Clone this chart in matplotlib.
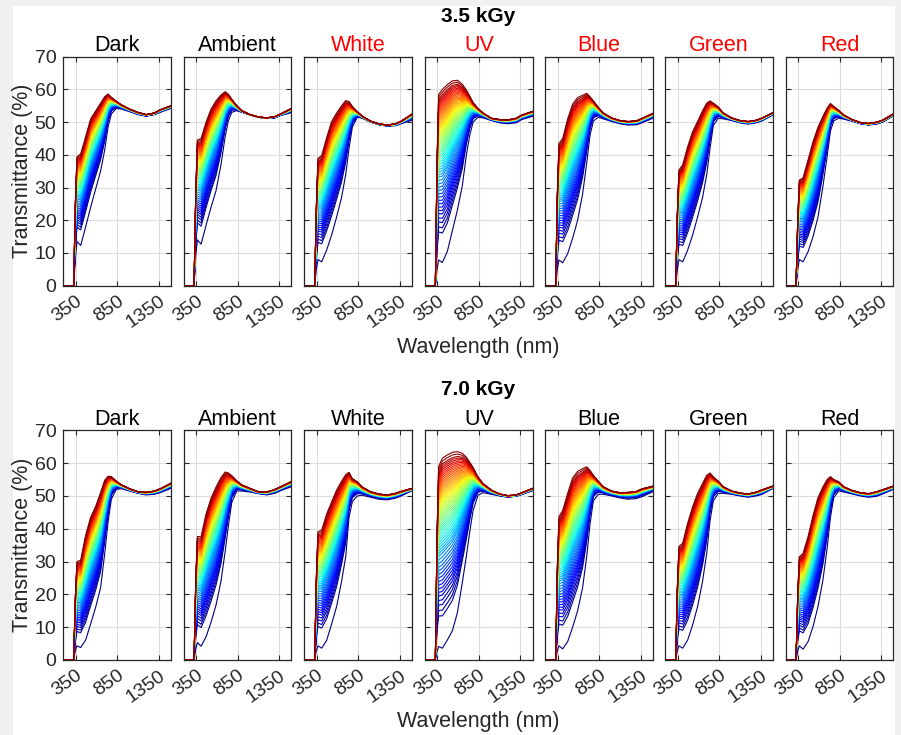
import numpy as np
import matplotlib
matplotlib.use("Agg")
import matplotlib.pyplot as plt
from matplotlib.patches import Rectangle

plt.rcParams["font.family"] = ["Liberation Sans", "DejaVu Sans"]

# Wavelength sampling points (nm) shared by every spectrum below
WAVELENGTHS = [200, 325, 345, 365, 410, 470, 530, 590, 650, 700,
               740, 780, 840, 900, 1000, 1100, 1200, 1300, 1370, 1500]

CONDITIONS = ["Dark", "Ambient", "White", "UV", "Blue", "Green", "Red"]
DOSES = ["3.5 kGy", "7.0 kGy"]
TITLE_COLORS_35 = ["black", "black", "red", "red", "red", "red", "red"]
TITLE_COLORS_70 = ["black"] * 7
XTICKS = [350, 850, 1350]
YTICKS = [0, 10, 20, 30, 40, 50, 60, 70]

# Transmittance (%) of the first (lowest, blue) and last (highest, red) spectrum per panel
# ---- 3.5 kGy
DARK_35_LOW = [0, 0, 8, 13.5, 12.3, 18, 24, 29.5, 35, 41.5, 48.5, 52.5, 54.2, 54, 53.2, 52.3, 51.8, 52.3, 53, 54.2]
DARK_35_HIGH = [0, 0, 25, 39.4, 40.3, 45.5, 51, 53.4, 55.8, 57.8, 58.6, 57.6, 56.4, 55.3, 54, 53, 52.3, 52.8, 53.8, 55]
AMBIENT_35_LOW = [0, 0, 9, 14, 12.7, 18.5, 24, 29, 37, 45.5, 50.5, 53, 53.5, 53, 52.2, 51.5, 51.1, 51.3, 52, 52.9]
AMBIENT_35_HIGH = [0, 0, 28, 44.5, 45, 50, 54, 56.5, 58.3, 59.3, 58.5, 57, 55, 53.5, 52.3, 51.6, 51.3, 51.7, 52.5, 54.2]
WHITE_35_LOW = [0, 0, 5, 8, 7.3, 10.9, 15.5, 21, 27, 34, 42, 48.5, 51.5, 51.2, 50, 49.2, 48.8, 48.9, 49.5, 50.6]
WHITE_35_HIGH = [0, 0, 24, 38.9, 39.8, 45.3, 50.2, 52.8, 55, 56.6, 56.3, 54.8, 53.2, 51.8, 50.3, 49.5, 49.1, 49.5, 50.3, 52.5]
UV_35_LOW = [0, 0, 5, 7.85, 7.1, 10.5, 16.8, 23, 30.5, 40, 46, 50, 51.5, 51.3, 50.5, 49.8, 49.5, 49.8, 50.8, 51.8]
UV_35_HIGH = [0, 0, 38, 58.5, 60, 61.5, 62.6, 62.8, 61.6, 59.8, 58, 56, 54.2, 52.8, 51.2, 50.8, 50.7, 51.2, 52.2, 53.3]
BLUE_35_LOW = [0, 0, 5, 7.85, 7, 9.8, 14.5, 20, 28, 37.5, 46, 50.3, 51.5, 51, 50.2, 49.5, 49.1, 49.2, 49.8, 51.2]
BLUE_35_HIGH = [0, 0, 28, 43.5, 45, 51, 55.5, 57.5, 58.2, 58.8, 57.8, 56.5, 54.5, 52.8, 51.3, 50.5, 50.2, 50.4, 51.2, 52.7]
GREEN_35_LOW = [0, 0, 5, 8, 7.3, 10.9, 15.5, 21, 27, 34, 42, 49, 51.2, 51, 50.5, 49.8, 49.4, 49.8, 50.4, 52.2]
GREEN_35_HIGH = [0, 0, 22, 35.4, 36.9, 42.5, 47.1, 50.2, 53.5, 55.8, 56.5, 55.8, 54.6, 52.8, 51.3, 50.5, 50.2, 50.6, 51.3, 52.9]
RED_35_LOW = [0, 0, 5, 8, 7.3, 10.4, 15, 21, 30.5, 39.5, 47.3, 50.4, 51.2, 50.9, 50.3, 49.5, 49.1, 49.4, 50, 51.9]
RED_35_HIGH = [0, 0, 20, 32.3, 33, 38.4, 44, 48.5, 51.8, 54.3, 55.7, 54.8, 53.6, 52.2, 50.8, 49.9, 49.6, 50, 50.6, 52.5]
# ---- 7.0 kGy
DARK_70_LOW = [0, 0, 2.8, 4.3, 3.8, 6.1, 11, 16, 22, 32.5, 42, 49, 52, 52.2, 51.5, 50.8, 50.3, 50.5, 51, 52.3]
DARK_70_HIGH = [0, 0, 19, 30, 30.4, 38, 43.5, 46.8, 51, 54.8, 56, 55.9, 54.5, 53.4, 52.2, 51.3, 51.1, 51.5, 52.2, 53.9]
AMBIENT_70_LOW = [0, 0, 3.3, 5.3, 4.2, 7.1, 11.5, 16.7, 24, 33, 41, 48, 51.5, 51.5, 51.2, 50.7, 50.3, 50.8, 51.6, 52.8]
AMBIENT_70_HIGH = [0, 0, 24, 37.6, 37.6, 44.5, 49.3, 52.7, 55.6, 57.3, 57, 56.2, 54.6, 53.4, 52.3, 51.3, 51.2, 52, 52.8, 54.4]
WHITE_70_LOW = [0, 0, 2.8, 4.3, 3.6, 6, 11, 16.3, 24, 31.5, 43.5, 48.3, 50, 50.2, 49.6, 49, 48.8, 49.3, 50, 51.6]
WHITE_70_HIGH = [0, 0, 25, 39.1, 39.6, 44.5, 48.2, 51.8, 54.5, 56.5, 57.2, 55.3, 54.3, 52.7, 51.3, 50.6, 50.3, 50.8, 51.4, 52.3]
UV_70_LOW = [0, 0, 2.6, 4.1, 3.6, 6.1, 8.9, 14.3, 23.5, 31.8, 39, 45.5, 50.2, 51, 50.5, 50, 49.6, 49.9, 50.4, 51.6]
UV_70_HIGH = [0, 0, 38, 59, 61.5, 62.5, 63.3, 63.5, 63, 61.8, 60.3, 58.7, 55.8, 53.8, 51.8, 50.6, 50.1, 50.3, 51, 52.3]
BLUE_70_LOW = [0, 0, 2.8, 4.3, 3.4, 5.6, 10, 15, 22, 31.5, 41.5, 48.5, 50.5, 50.5, 50, 49.4, 49, 49.2, 49.8, 51.3]
BLUE_70_HIGH = [0, 0, 28, 43.7, 45.6, 50.8, 55.5, 57.5, 58.3, 58.9, 57.8, 56.3, 54.5, 52.8, 51.5, 51, 51.1, 51.4, 52.2, 53]
GREEN_70_LOW = [0, 0, 2.8, 4.3, 3.6, 6.1, 10.7, 16.3, 24, 32.5, 42.5, 48.5, 50.8, 50.8, 50.5, 50, 49.6, 50, 50.5, 52.3]
GREEN_70_HIGH = [0, 0, 22, 34.6, 35.6, 41.7, 46.7, 50.8, 53.8, 56.3, 57, 55.8, 54.5, 52.8, 51.5, 50.9, 50.6, 51.2, 51.9, 53]
RED_70_LOW = [0, 0, 2.8, 4.3, 3.3, 5.6, 10.2, 16.3, 24.5, 34, 43.5, 49.5, 51.5, 51.2, 50.6, 50, 49.6, 49.9, 50.6, 52]
RED_70_HIGH = [0, 0, 20, 31.5, 32.5, 37.6, 44, 49.5, 52.8, 55, 55.9, 55, 54.3, 52.8, 51.7, 51, 50.7, 51.3, 51.9, 53]

# Relative position of each successive spectrum between the first and last one
PROGRESS = [0.00, 0.17, 0.20, 0.23, 0.255, 0.28, 0.30, 0.32, 0.34, 0.36,
            0.38, 0.40, 0.42, 0.44, 0.46, 0.48, 0.50, 0.515, 0.53, 0.545,
            0.56, 0.575, 0.59, 0.605, 0.62, 0.632, 0.645, 0.657, 0.67, 0.682,
            0.694, 0.705, 0.716, 0.727, 0.738, 0.749, 0.76, 0.77, 0.78, 0.79,
            0.80, 0.81, 0.82, 0.83, 0.84, 0.85, 0.86, 0.87, 0.88, 0.89,
            0.90, 0.91, 0.92, 0.93, 0.94, 0.95, 0.96, 0.97, 0.985, 1.00]

PANELS = [
    [(DARK_35_LOW, DARK_35_HIGH), (AMBIENT_35_LOW, AMBIENT_35_HIGH), (WHITE_35_LOW, WHITE_35_HIGH),
     (UV_35_LOW, UV_35_HIGH), (BLUE_35_LOW, BLUE_35_HIGH), (GREEN_35_LOW, GREEN_35_HIGH),
     (RED_35_LOW, RED_35_HIGH)],
    [(DARK_70_LOW, DARK_70_HIGH), (AMBIENT_70_LOW, AMBIENT_70_HIGH), (WHITE_70_LOW, WHITE_70_HIGH),
     (UV_70_LOW, UV_70_HIGH), (BLUE_70_LOW, BLUE_70_HIGH), (GREEN_70_LOW, GREEN_70_HIGH),
     (RED_70_LOW, RED_70_HIGH)],
]

W, H = 901, 735
fig = plt.figure(figsize=(W / 100, H / 100), dpi=100, facecolor="#f0f0f0")
fig.patches.append(Rectangle((13 / W, 0), (895 - 13) / W, 1 - 5.5 / H,
                             transform=fig.transFigure, facecolor="white",
                             edgecolor="none", zorder=-10))

lefts = [63.3, 183.7, 304.3, 425.0, 545.3, 665.3, 785.7]
panel_w = 107.7
row_top = [56.7, 430.3]
row_h = [229.0, 229.7]
title_colors = [TITLE_COLORS_35, TITLE_COLORS_70]
wl = np.array(WAVELENGTHS, dtype=float)
cmap = plt.get_cmap("jet")
n = len(PROGRESS)

for r in range(2):
    for c in range(7):
        ax = fig.add_axes([lefts[c] / W, 1 - (row_top[r] + row_h[r]) / H,
                           panel_w / W, row_h[r] / H])
        low = np.array(PANELS[r][c][0], dtype=float)
        high = np.array(PANELS[r][c][1], dtype=float)
        for i, f in enumerate(PROGRESS):
            ax.plot(wl, low + f * (high - low), color=cmap(i / (n - 1)), lw=0.8)
        ax.set_xlim(200, 1500)
        ax.set_ylim(0, 70)
        ax.set_xticks(XTICKS)
        ax.set_yticks(YTICKS)
        ax.grid(True, color="#dcdcdc", lw=0.8)
        ax.set_axisbelow(True)
        ax.tick_params(direction="in", length=3.5, top=True, right=True,
                       labelsize=14, colors="#262626", pad=5)
        ax.set_xticklabels([str(t) for t in XTICKS], rotation=35,
                           ha="right", va="top", rotation_mode="anchor")
        for s in ax.spines.values():
            s.set_color("#262626")
            s.set_linewidth(0.9)
        if c == 0:
            ax.set_ylabel("Transmittance (%)", fontsize=15.5, color="#262626")
            ax.yaxis.set_label_coords((33 - lefts[0]) / panel_w, 0.5)
        else:
            ax.set_yticklabels([])
        ax.set_title(CONDITIONS[c], fontsize=15.5, color=title_colors[r][c], pad=4)

    fig.text(478 / W, 1 - (16 + 373.5 * r) / H, DOSES[r], fontsize=15, fontweight="bold",
             ha="center", va="center")
    fig.text(478 / W, 1 - (348 + 373.5 * r) / H, "Wavelength (nm)", fontsize=15.5,
             color="#262626", ha="center", va="center")

fig.savefig("out.png", dpi=100, facecolor=fig.get_facecolor())
